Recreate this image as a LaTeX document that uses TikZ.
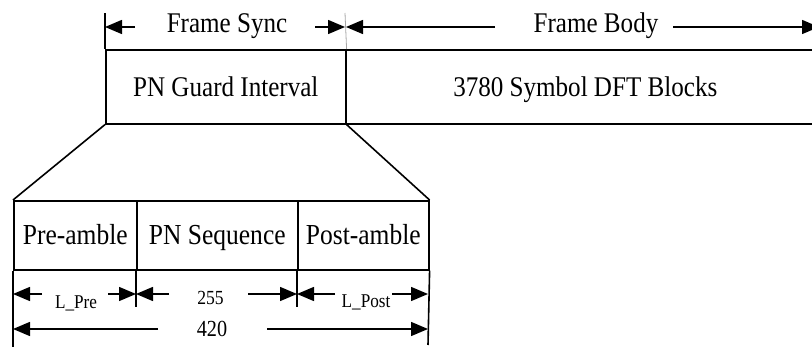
\documentclass[tikz,border=0pt]{standalone}
\usepackage{fontspec}
\setmainfont{Liberation Serif}[FakeStretch=0.88]
\usetikzlibrary{arrows.meta}
\begin{document}
\begin{tikzpicture}[x=1pt,y=-1pt,
  cell/.style={draw,line width=1.6pt,inner sep=0pt,anchor=north west,
    text height=19pt,text depth=0pt},
  toptext/.style={font=\fontsize{28.5}{30}\selectfont},
  celltext/.style={font=\fontsize{29}{31}\selectfont},
  smalltext/.style={font=\fontsize{19.5}{21}\selectfont},
  numtext/.style={font=\fontsize{20}{22}\selectfont},
  bignum/.style={font=\fontsize{23}{25}\selectfont},
  dim/.style={line width=1.5pt,-{Triangle[length=17pt,width=14pt]}},
  edge/.style={line width=1.6pt},
  hair/.style={line width=0.8pt,gray!70}]
\clip (0,0) rectangle (812,347);

% frame: guard interval and body
\node[cell,toptext,minimum width=240pt,minimum height=74pt] (guard) at (105,49) {PN Guard Interval};
\node[cell,toptext,minimum width=479pt,minimum height=74pt] (body) at (345,49) {3780 Symbol DFT Blocks};

% expanded guard interval
\node[cell,celltext,minimum width=123pt,minimum height=69pt] (pre) at (13,200) {Pre-amble};
\node[cell,celltext,minimum width=161pt,minimum height=69pt] (seq) at (136,200) {PN Sequence};
\node[cell,celltext,minimum width=131pt,minimum height=69pt] (post) at (297,200) {Post-amble};

% zoom lines
\draw[edge] (guard.south west) -- (pre.north west);
\draw[edge] (guard.south east) -- (post.north east);

% extension ticks above the frame
\coordinate (ta) at (105,13);
\coordinate (tb) at (345,13);
\draw[edge] (guard.north west) -- (ta);
\draw[hair] (guard.north east) -- (tb);

% extension ticks below the guard interval
\coordinate (ba) at (13,347);
\coordinate (bb) at (136,307);
\coordinate (bc) at (297,307);
\coordinate (bd) at (428,345);
\draw[edge] (pre.south west) -- (ba);
\draw[edge] (seq.south west) -- (bb);
\draw[edge] (post.south west) -- (bc);
\draw[edge] (post.south east) -- (bd);

% labels
\node[toptext,anchor=base] (sync) at (227,33) {Frame Sync};
\node[toptext,anchor=base] (fbody) at (596,33) {Frame Body};
\node[smalltext,anchor=base] (lpre) at (76,309) {L\_Pre};
\node[numtext,anchor=base] (n255) at (210.5,305) {255};
\node[smalltext,anchor=base] (lpost) at (366,308) {L\_Post};
\node[bignum,anchor=base] (n420) at (212,337) {420};

% dimension arrows, top row
\coordinate (s1) at (135,27);  \coordinate (s1t) at (105,27);
\coordinate (s2) at (315,27);  \coordinate (s2t) at (345,27);
\coordinate (f1) at (495,27);  \coordinate (f1t) at (346,27);
\coordinate (f2) at (673,27);  \coordinate (f2t) at (819,27);
\draw[dim] (s1) -- (s1t);
\draw[dim] (s2) -- (s2t);
\draw[dim] (f1) -- (f1t);
\draw[dim] (f2) -- (f2t);

% dimension arrows, guard interval parts
\coordinate (p1) at (42,294);  \coordinate (p1t) at (13,294);
\coordinate (p2) at (108,294); \coordinate (p2t) at (136,294);
\coordinate (q1) at (169,294); \coordinate (q1t) at (136,294);
\coordinate (q2) at (248,294); \coordinate (q2t) at (297,294);
\coordinate (r1) at (335,294); \coordinate (r1t) at (297,294);
\coordinate (r2) at (392,294); \coordinate (r2t) at (428,294);
\draw[dim] (p1) -- (p1t);
\draw[dim] (p2) -- (p2t);
\draw[dim] (q1) -- (q1t);
\draw[dim] (q2) -- (q2t);
\draw[dim] (r1) -- (r1t);
\draw[dim] (r2) -- (r2t);

% total length
\coordinate (w1) at (158,329); \coordinate (w1t) at (13,329);
\coordinate (w2) at (267,329); \coordinate (w2t) at (428,329);
\draw[dim] (w1) -- (w1t);
\draw[dim] (w2) -- (w2t);
\end{tikzpicture}
\end{document}
